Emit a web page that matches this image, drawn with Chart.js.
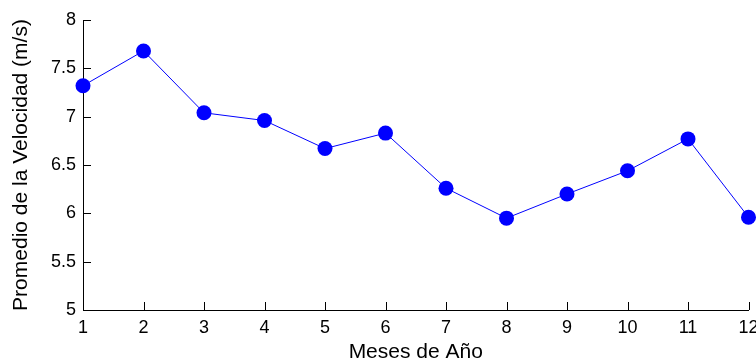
<!DOCTYPE html>
<html>
<head>
<meta charset="utf-8">
<script src="https://cdn.jsdelivr.net/npm/chart.js@4/dist/chart.umd.min.js"></script>
<style>
    html, body { margin: 0; padding: 0; background: #fff; }
    #wrap { width: 756px; height: 362px; position: relative; }
</style>
</head>
<body>
<div id="wrap"><canvas id="velChart"></canvas></div>
<script>
const meses     = ['1', '2', '3', '4', '5', '6', '7', '8', '9', '10', '11', '12'];
const velocidad = [7.32, 7.68, 7.04, 6.96, 6.67, 6.83, 6.26, 5.95, 6.20, 6.44, 6.77, 5.96];
const yTicks    = [5, 5.5, 6, 6.5, 7, 7.5, 8];

const lineColor = '#0000ff';
const fontFace  = '"Liberation Sans", Arial, sans-serif';

// marcas de los ejes hacia dentro (estilo MATLAB)
const inwardTicks = {
    id: 'inwardTicks',
    afterDraw(chart) {
        const { ctx, chartArea: a, scales: { x, y } } = chart;
        ctx.save();
        ctx.strokeStyle = '#000';
        ctx.lineWidth = 1;
        ctx.beginPath();
        x.ticks.forEach((t, i) => {
            const px = Math.round(x.getPixelForTick(i)) + 0.5;
            ctx.moveTo(px, a.bottom);
            ctx.lineTo(px, a.bottom - 8);
        });
        y.ticks.forEach((t, i) => {
            const py = Math.round(y.getPixelForTick(i)) + 0.5;
            ctx.moveTo(a.left, py);
            ctx.lineTo(a.left + 8, py);
        });
        ctx.stroke();
        ctx.restore();
    }
};

new Chart(document.getElementById('velChart').getContext('2d'), {
    type: 'line',
    data: {
        labels: meses,
        datasets: [{
            data: velocidad,
            borderColor: lineColor,
            backgroundColor: lineColor,
            borderWidth: 1,
            pointRadius: 7.5,
            pointBackgroundColor: lineColor,
            pointBorderWidth: 0,
            tension: 0,
            clip: false
        }]
    },
    options: {
        responsive: true,
        maintainAspectRatio: false,
        animation: false,
        layout: { padding: { top: 20, right: 3, left: 0, bottom: 0 } },
        plugins: {
            legend: { display: false },
            tooltip: { enabled: false }
        },
        scales: {
            x: {
                type: 'category',
                offset: false,
                grid: { display: false, drawTicks: false },
                border: { display: true, color: '#000', width: 1 },
                ticks: {
                    color: '#000',
                    padding: 7,
                    maxRotation: 0,
                    autoSkip: false,
                    font: { family: fontFace, size: 18 }
                },
                title: {
                    display: true,
                    text: 'Meses de Año',
                    color: '#000',
                    padding: { top: 0, bottom: -3 },
                    font: { family: fontFace, size: 21 }
                },
                afterFit(scale) {
                    scale.height = 52;
                    scale.paddingLeft = 0;
                    scale.paddingRight = 0;
                }
            },
            y: {
                min: 5,
                max: 8,
                afterBuildTicks(scale) {
                    scale.ticks = yTicks.map(v => ({ value: v }));
                },
                grid: { display: false, drawTicks: false },
                border: { display: true, color: '#000', width: 1 },
                ticks: {
                    color: '#000',
                    padding: 7,
                    font: { family: fontFace, size: 18 },
                    callback: v => String(v)
                },
                title: {
                    display: true,
                    text: 'Promedio de la Velocidad (m/s)',
                    color: '#000',
                    padding: { top: 9, bottom: 0 },
                    font: { family: fontFace, size: 21 }
                },
                afterFit(scale) {
                    scale.width = 83;
                    scale.paddingTop = 0;
                    scale.paddingBottom = 0;
                }
            }
        }
    },
    plugins: [inwardTicks]
});
</script>
</body>
</html>
